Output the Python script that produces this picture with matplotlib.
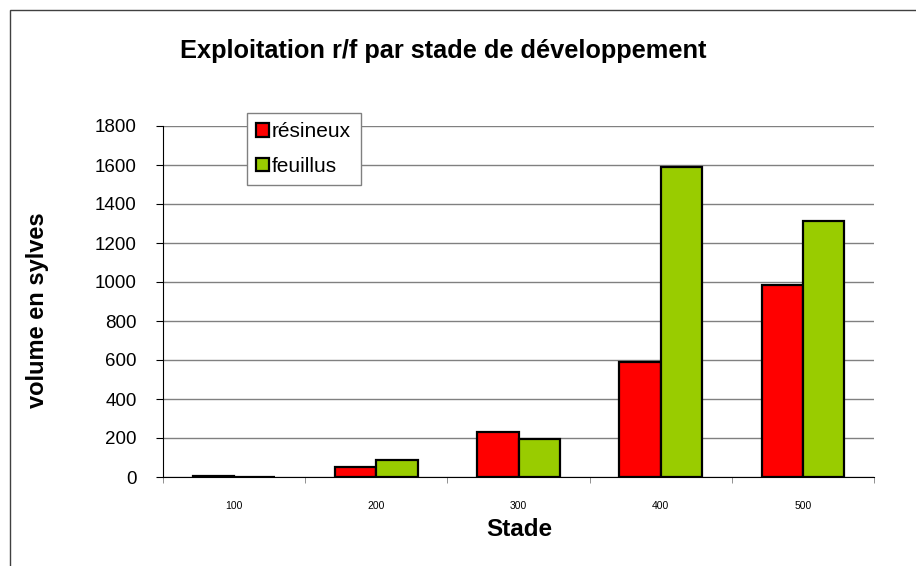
import matplotlib
matplotlib.use("Agg")
import matplotlib.pyplot as plt
from matplotlib.patches import Rectangle
import numpy as np

plt.rcParams['font.family'] = ['Liberation Sans', 'DejaVu Sans']

categories = ['100', '200', '300', '400', '500']
resineux = [3, 50, 232, 590, 983]
feuillus = [2, 87, 195, 1588, 1313]
yticks = [0, 200, 400, 600, 800, 1000, 1200, 1400, 1600, 1800]

W, H = 916, 566
fig = plt.figure(figsize=(W/100, H/100), dpi=100)
fig.patch.set_facecolor('white')

# outer chart frame (cropped at right/bottom)
fig.add_artist(Rectangle((9.5/W, -0.1), 1.2, 1 - 9.5/H + 0.1, transform=fig.transFigure,
                         fill=False, edgecolor='#404040', linewidth=1.0))

ax = fig.add_axes([163/W, 1 - 477/H, (874-163)/W, (477-126)/H])
x = np.arange(len(categories))
w = 0.29
ax.bar(x - w/2, resineux, w, color='#FF0000', edgecolor='black', linewidth=1.6, label='résineux', zorder=3)
ax.bar(x + w/2, feuillus, w, color='#99CC00', edgecolor='black', linewidth=1.6, label='feuillus', zorder=3)

ax.set_xlim(-0.5, len(categories) - 0.5)
ax.set_ylim(0, 1800)
ax.set_yticks(yticks)
ax.set_yticklabels([str(v) for v in yticks], fontsize=13.5)
ax.yaxis.grid(True, color='#808080', linewidth=1.0, zorder=0)
ax.set_axisbelow(True)

ax.set_xticks(x)
ax.set_xticklabels(categories, fontsize=7.5)
ax.tick_params(axis='x', length=0, pad=17)
ax.set_xticks(np.arange(len(categories) + 1) - 0.5, minor=True)
ax.tick_params(axis='x', which='minor', length=4, color='#808080', direction='out')
ax.tick_params(axis='y', length=5, direction='out', pad=14, color='black')

for s in ['top', 'right']:
    ax.spines[s].set_visible(False)
ax.spines['left'].set_color('black')
ax.spines['bottom'].set_color('black')

fig.text(519/W, 1 - 530/H, 'Stade', fontsize=17.5, fontweight='bold', ha='center', va='center')
fig.text(38/W, 1 - 310/H, 'volume en sylves', fontsize=17, fontweight='bold',
         ha='center', va='center', rotation=90)

fig.text(443/W, 1 - 51/H, 'Exploitation r/f par stade de développement', fontsize=18.3,
         fontweight='bold', ha='center', va='center')

leg = fig.legend(loc='upper left', bbox_to_anchor=(247/W, 1 - 113/H), fontsize=15,
                 handlelength=0.6, handleheight=0.6, handletextpad=0.15, borderpad=0.45,
                 labelspacing=0.75, fancybox=False, framealpha=1, edgecolor='#808080',
                 borderaxespad=0)
leg.get_frame().set_linewidth(1.0)

fig.savefig('out.png', dpi=100)
